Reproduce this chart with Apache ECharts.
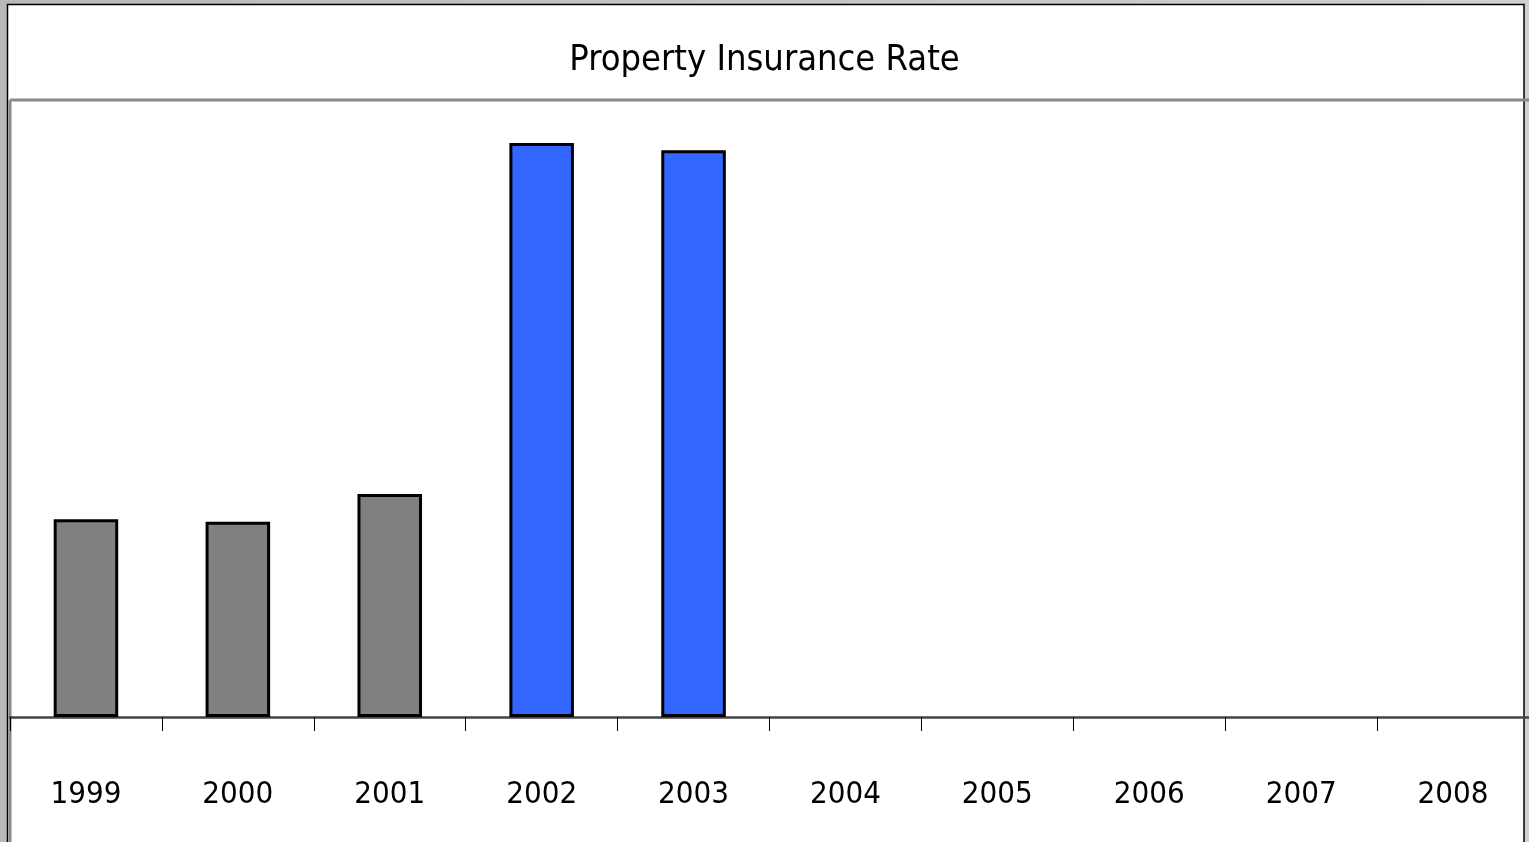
<!DOCTYPE html>
<html><head><meta charset="utf-8">
<script src="https://cdn.jsdelivr.net/npm/echarts@6/dist/echarts.min.js"></script>
<style>html,body{margin:0;padding:0;background:#fff}#c{width:1529px;height:842px}</style>
</head><body><div id="c"></div>
<script>
const categories = ['1999','2000','2001','2002','2003','2004','2005','2006','2007','2008'];
const rateValues = [32.1, 31.7, 36.2, 93.2, 92.0, null, null, null, null, null];
const barColors = ['#808080','#808080','#808080','#3366FF','#3366FF','#808080','#808080','#808080','#808080','#808080'];
const titleText = 'Property Insurance Rate';
const FONT = "'DejaVu Sans Condensed','Liberation Sans',sans-serif";

const chart = echarts.init(document.getElementById('c'));
chart.setOption({
  animation: false,
  backgroundColor: '#ffffff',
  title: {
    text: titleText, left: 'center', top: 38,
    textStyle: { fontFamily: FONT, fontSize: 36, fontWeight: 'normal', color: '#000' }
  },
  graphic: { elements: [
    { type: 'rect', z: -100, shape: { x: 0, y: 0, width: 1529, height: 842 },
      style: { fill: new echarts.graphic.LinearGradient(0,0,1,0,[{offset:0,color:'#b8b8b8'},{offset:1,color:'#d0d0d0'}]) } },
    { type: 'rect', z: -99, shape: { x: 7.5, y: 4.5, width: 1516.5, height: 845 },
      style: { fill: '#ffffff', stroke: '#000', lineWidth: 1.5 } },
    { type: 'line', z: -98, shape: { x1: 10, y1: 100, x2: 1529, y2: 100 },
      style: { stroke: '#888', lineWidth: 3 } },
    { type: 'line', z: -98, shape: { x1: 10, y1: 100, x2: 10, y2: 842 },
      style: { stroke: '#888', lineWidth: 3 } }
  ]},
  grid: { left: 10, right: -1, top: 101, bottom: 125, containLabel: false },
  xAxis: {
    type: 'category', data: categories, boundaryGap: true,
    axisLine: { lineStyle: { color: '#444', width: 2.5 } },
    axisTick: { show: true, length: 14, inside: false, lineStyle: { color: '#000', width: 1 } },
    axisLabel: { margin: 62, fontFamily: FONT, fontSize: 31, color: '#000', interval: 0 }
  },
  yAxis: {
    type: 'value', min: 0, max: 100, show: false,
    splitLine: { show: false }
  },
  series: [{
    type: 'bar', data: rateValues.map((v,i)=>({ value: v, itemStyle: { color: barColors[i] } })),
    barWidth: '42.5%',
    itemStyle: { borderColor: '#000', borderWidth: 3 }
  }]
});
</script></body></html>
